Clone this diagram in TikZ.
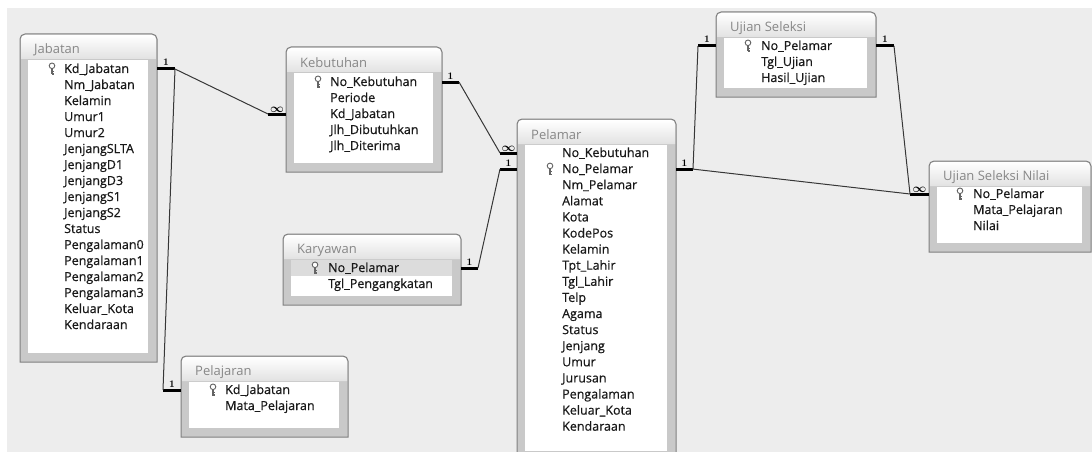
\documentclass[tikz,border=0pt]{standalone}
\usepackage{fontspec}
\usepackage{bm}
\usetikzlibrary{calc, positioning}
\setmainfont{Open Sans}
\newfontfamily\fieldfont[FakeBold=0.6]{Open Sans}
\definecolor{CanvasGrey}{RGB}{237,237,237}
\definecolor{FrameGrey}{RGB}{201,201,201}
\definecolor{EdgeGrey}{RGB}{128,128,128}
\definecolor{TitleGrey}{RGB}{226,226,226}
\definecolor{TitleInk}{RGB}{135,135,135}
\definecolor{FieldInk}{RGB}{25,25,25}
\definecolor{RowGrey}{RGB}{220,220,220}
\definecolor{LinkGrey}{RGB}{55,55,55}
\definecolor{KeyGrey}{RGB}{100,100,100}

\tikzset{
  field/.style={anchor=west, inner sep=0pt, text height=9pt, text depth=1pt, text=FieldInk, font=\fieldfont\fontsize{12.5}{14}\selectfont},
  tabletitle/.style={anchor=west, inner sep=0pt, text=TitleInk, font=\fontsize{13}{15}\selectfont},
  link/.style={LinkGrey, line width=1pt},
  stub/.style={black, line width=3pt},
  card/.style={above=1.5pt, inner sep=0pt, font=\fontsize{10}{10}\selectfont},
  cardinf/.style={above=0.5pt, inner sep=0pt, font=\fontsize{13}{13}\selectfont},
  pkey/.pic={
    \draw[KeyGrey, line width=0.9pt, fill=white] (0,-3.2) circle (2.8pt);
    \draw[KeyGrey, line width=1.1pt] (0,-0.4) -- (0,5.5) (0,2.8) -- (1.9,2.8) (0,5) -- (1.9,5);
  }
}

\newcommand{\dbtable}[6]{%
  \filldraw[fill=FrameGrey, draw=EdgeGrey, line width=1pt] (#2,#5) [rounded corners=5pt] -- (#2,#3) -- (#4,#3) [sharp corners] -- (#4,#5) -- cycle;
  \shade[top color=white, bottom color=TitleGrey] ({#2+1},{#3+25}) [rounded corners=4pt] -- ({#2+1},{#3+1}) -- ({#4-1},{#3+1}) [sharp corners] -- ({#4-1},{#3+25}) -- cycle;
  \fill[white] ({#2+8},{#3+26}) rectangle ({#4-9},{#5-9});
  \node[tabletitle] (#1-title) at ({#2+14},{#3+16}) {#6};
  \coordinate (#1-nw) at (#2,#3);
  \coordinate (#1-se) at (#4,#5);
}

\begin{document}
\begin{tikzpicture}[x=1pt, y=-1pt]
    \useasboundingbox (0,0) rectangle (1092,452);
    \fill[white] (0,0) rectangle (1092,452);
    \fill[CanvasGrey] (7,8) rectangle (1092,452);

    \dbtable{jab}{20}{34}{157}{362}{Jabatan}
    \foreach \f [count=\i] in {Kd\_Jabatan, Nm\_Jabatan, Kelamin, Umur1, Umur2, JenjangSLTA, JenjangD1, JenjangD3, JenjangS1, JenjangS2, Status, Pengalaman0, Pengalaman1, Pengalaman2, Pengalaman3, Keluar\_Kota, Kendaraan}
        \node[field] (jab-\i) at (64,{69+16*(\i-1)}) {\f};
    \pic at ([xshift=-12pt]jab-1.west) {pkey};

    \dbtable{keb}{286}{47}{442}{172}{Kebutuhan}
    \foreach \f [count=\i] in {No\_Kebutuhan, Periode, Kd\_Jabatan, Jlh\_Dibutuhkan, Jlh\_Diterima}
        \node[field] (keb-\i) at (330,{82+16*(\i-1)}) {\f};
    \pic at ([xshift=-12pt]keb-1.west) {pkey};

    \dbtable{kar}{283}{234}{461}{305}{Karyawan}
    \fill[RowGrey] (291,260) rectangle (452,276);
    \foreach \f [count=\i] in {No\_Pelamar, Tgl\_Pengangkatan}
        \node[field] (kar-\i) at (328,{268+16*(\i-1)}) {\f};
    \pic at ([xshift=-13pt]kar-1.west) {pkey};

    \dbtable{plj}{181}{356}{348}{437}{Pelajaran}
    \foreach \f [count=\i] in {Kd\_Jabatan, Mata\_Pelajaran}
        \node[field] (plj-\i) at (225,{390+16*(\i-1)}) {\f};
    \pic at ([xshift=-12pt]plj-1.west) {pkey};

    \dbtable{pel}{517}{119}{676}{460}{Pelamar}
    \foreach \f [count=\i] in {No\_Kebutuhan, No\_Pelamar, Nm\_Pelamar, Alamat, Kota, KodePos, Kelamin, Tpt\_Lahir, Tgl\_Lahir, Telp, Agama, Status, Jenjang, Umur, Jurusan, Pengalaman, Keluar\_Kota, Kendaraan}
        \node[field] (pel-\i) at (562,{153+16.1*(\i-1)}) {\f};
    \pic at ([xshift=-12pt]pel-2.west) {pkey};

    \dbtable{us}{716}{12}{876}{97}{Ujian Seleksi}
    \foreach \f [count=\i] in {No\_Pelamar, Tgl\_Ujian, Hasil\_Ujian}
        \node[field] (us-\i) at (761,{46+16*(\i-1)}) {\f};
    \pic at ([xshift=-13pt]us-1.west) {pkey};

    \dbtable{usn}{929}{161}{1091}{252}{Ujian Seleksi Nilai}
    \foreach \f [count=\i] in {No\_Pelamar, Mata\_Pelajaran, Nilai}
        \node[field] (usn-\i) at (973,{194+16*(\i-1)}) {\f};
    \pic at ([xshift=-13pt]usn-1.west) {pkey};

    \draw[stub] (jab-se |- jab-1.west) -- node[card] (c-jab) {$\bm{1}$} ++(18,0) coordinate (jab-out);
    \draw[stub] (plj-nw |- plj-1.west) -- node[card] (c-plj) {$\bm{1}$} ++(-18,0) coordinate (plj-in);
    \draw[stub] (keb-nw |- keb-3.west) -- node[cardinf] (c-keb-in) {$\bm{\infty}$} ++(-18,0) coordinate (keb-in);
    \draw[stub] (keb-se |- keb-1.west) -- node[card] (c-keb-out) {$\bm{1}$} ++(17,0) coordinate (keb-out);
    \draw[stub] (kar-se |- kar-1.west) -- node[card] (c-kar) {$\bm{1}$} ++(17,0) coordinate (kar-out);
    \draw[stub] (pel-nw |- pel-1.west) -- node[cardinf] (c-pel-in1) {$\bm{\infty}$} ++(-17,0) coordinate (pel-in1);
    \draw[stub] (pel-nw |- pel-2.west) -- node[card] (c-pel-in2) {$\bm{1}$} ++(-17,0) coordinate (pel-in2);
    \draw[stub] (pel-se |- pel-2.west) -- node[card] (c-pel-out) {$\bm{1}$} ++(17,0) coordinate (pel-out);
    \draw[stub] (us-nw |- us-1.west) -- node[card] (c-us-in) {$\bm{1}$} ++(-18,0) coordinate (us-in);
    \draw[stub] (us-se |- us-1.west) -- node[card] (c-us-out) {$\bm{1}$} ++(18,0) coordinate (us-out);
    \draw[stub] (usn-nw |- usn-1.west) -- node[cardinf] (c-usn) {$\bm{\infty}$} ++(-19,0) coordinate (usn-in);

    \draw[link] (jab-out) -- (keb-in);
    \draw[link] (jab-out) -- (plj-in);
    \draw[link] (keb-out) -- (pel-in1);
    \draw[link] (kar-out) -- (pel-in2);
    \draw[link] (pel-out) -- (us-in);
    \draw[link] (pel-out) -- (usn-in);
    \draw[link] (us-out) -- (usn-in);
\end{tikzpicture}
\end{document}
